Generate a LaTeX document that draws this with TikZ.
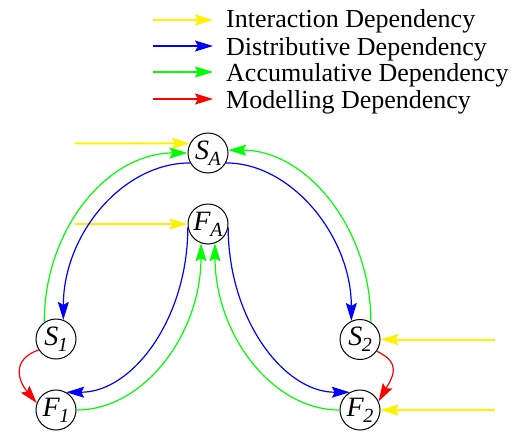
\documentclass[tikz,border=0pt]{standalone}
\usepackage{fontspec}
\setmainfont{Liberation Serif}
\usetikzlibrary{arrows.meta}
\newcommand\lbl[2]{\textit{#1}\kern-0.5bp\raisebox{-6bp}{\fontsize{20bp}{20bp}\selectfont\textit{#2}}}
\begin{document}
\begin{tikzpicture}[x=1bp,y=1bp,
  st/.style={draw, circle, line width=1bp, minimum size=40bp, inner sep=0pt, font=\fontsize{28bp}{28bp}\selectfont},
  tip/.style={-{Stealth[length=18bp,width=11bp,inset=3bp]}},
  yel/.style={tip, color=yellow, line width=2bp},
  blu/.style={tip, color=blue, line width=1.2bp},
  grn/.style={tip, color=green, line width=1.2bp},
  rd/.style={tip, color=red, line width=1.2bp},
  lg/.style={anchor=base west, inner sep=0pt, font=\fontsize{26bp}{26bp}\selectfont}]
\useasboundingbox (0,0) rectangle (519,432);
% legend
\coordinate (l1a) at (153,412); \coordinate (l1b) at (213,412);
\coordinate (l2a) at (153,386); \coordinate (l2b) at (213,386);
\coordinate (l3a) at (153,360); \coordinate (l3b) at (213,360);
\coordinate (l4a) at (153,333); \coordinate (l4b) at (213,333);
\draw[yel] (l1a) -- (l1b);
\draw[blu] (l2a) -- (l2b);
\draw[grn] (l3a) -- (l3b);
\draw[rd] (l4a) -- (l4b);
\node[lg] (t1) at (226,404) {Interaction Dependency};
\node[lg] (t2) at (226,377) {Distributive Dependency};
\node[lg] (t3) at (226,350.5) {Accumulative Dependency};
\node[lg] (t4) at (226,324) {Modelling Dependency};
% nodes
\node[st] (SA) at (208,279) {\lbl{S}{A}};
\node[st] (FA) at (208,208) {\lbl{F}{A}};
\node[st] (S1) at (56,93) {\lbl{S}{1}};
\node[st] (S2) at (360,92.5) {\lbl{S}{2}};
\node[st] (F1) at (56,22) {\lbl{F}{1}};
\node[st] (F2) at (360,22) {\lbl{F}{2}};
% free ends
\coordinate (ySA) at (75,288.6);
\coordinate (yFA) at (75,208);
\coordinate (yS2) at (495,92.5);
\coordinate (yF2) at (495,22);
% interaction
\draw[yel] (ySA) -- (SA.152);
\draw[yel] (yFA) -- (FA.west);
\draw[yel] (yS2) -- (S2.east);
\draw[yel] (yF2) -- (F2.east);
% SA loops
\draw[grn] (S1.125) to[out=90,in=180,out distance=93bp,in distance=80bp] (SA.west);
\draw[blu] (SA.209) to[out=180,in=90,out distance=68bp,in distance=85bp] (S1.69);
\draw[grn] (S2.58) to[out=90,in=0,out distance=94bp,in distance=78bp] (SA.8);
\draw[blu] (SA.331) to[out=0,in=90,out distance=66bp,in distance=84bp] (S2.115);
% FA loops
\draw[blu] (FA.190) to[out=270,in=0,out distance=90bp,in distance=67bp] (F1.60);
\draw[grn] (F1.east) to[out=0,in=270,out distance=68bp,in distance=90bp] (FA.250);
\draw[blu] (FA.350) to[out=270,in=180,out distance=90bp,in distance=67bp] (F2.120);
\draw[grn] (F2.west) to[out=180,in=270,out distance=68bp,in distance=90bp] (FA.290);
% modelling
\draw[rd] (S1.212) to[out=200,in=130,out distance=30bp,in distance=28bp] (F1.160);
\draw[rd] (S2.325) to[out=-25,in=60,out distance=28bp,in distance=28bp] (F2.25);
\end{tikzpicture}
\end{document}
